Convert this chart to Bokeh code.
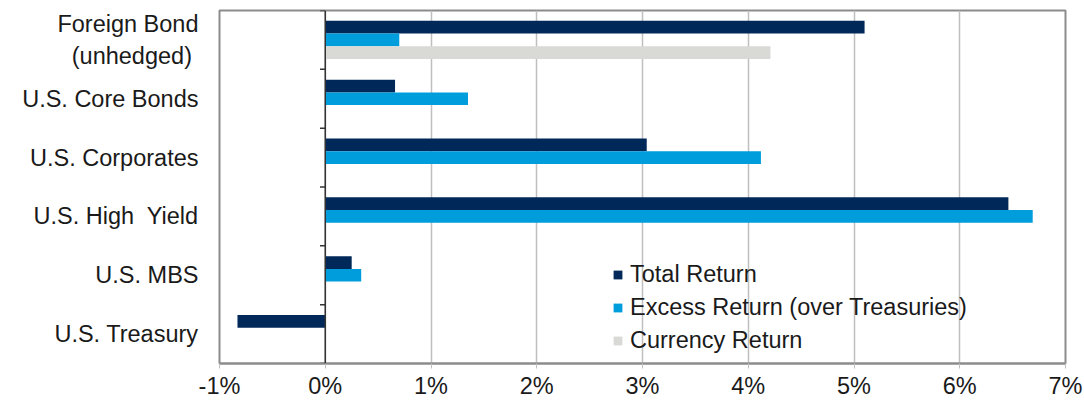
from bokeh.plotting import figure
from bokeh.models import ColumnDataSource, Range1d, FactorRange, FixedTicker, Span, Legend, LegendItem
from bokeh.transform import dodge
from bokeh.embed import file_html
from bokeh.resources import INLINE

# ---- data ----
categories = ["Foreign Bond\n(unhedged)\u00a0", "U.S. Core Bonds", "U.S. Corporates",
              "U.S. High\u00a0 Yield", "U.S. MBS", "U.S. Treasury"]
total_return = [5.10, 0.66, 3.04, 6.46, 0.25, -0.83]
excess_return = [0.70, 1.35, 4.12, 6.69, 0.34, 0.0]
currency_return = [4.21, 0.0, 0.0, 0.0, 0.0, 0.0]
series_names = ["Total Return", "Excess Return (over Treasuries)", "Currency Return"]
x_ticks = [-1, 0, 1, 2, 3, 4, 5, 6, 7]
x_tick_labels = ["-1%", "0%", "1%", "2%", "3%", "4%", "5%", "6%", "7%"]

colors = ["#00295a", "#009ddc", "#d9d9d6"]
FONT = "Liberation Sans"
FS = "23.5px"

src = ColumnDataSource(dict(cat=categories, total=total_return,
                            excess=excess_return, currency=currency_return))

p = figure(width=1084, height=403, output_backend="svg", toolbar_location=None,
           x_range=Range1d(-1, 7), y_range=FactorRange(factors=categories[::-1]),
           min_border_left=219, min_border_right=19, min_border_top=10, min_border_bottom=40)

bw = 0.216
r1 = p.hbar(y=dodge("cat", bw, range=p.y_range), right="total", left=0, height=bw,
            source=src, fill_color=colors[0], line_color=None)
r2 = p.hbar(y=dodge("cat", 0, range=p.y_range), right="excess", left=0, height=bw,
            source=src, fill_color=colors[1], line_color=None)
r3 = p.hbar(y=dodge("cat", -bw, range=p.y_range), right="currency", left=0, height=bw,
            source=src, fill_color=colors[2], line_color=None)

# zero line and its category-boundary ticks
p.add_layout(Span(location=0, dimension="height", line_color="#333333", line_width=1.5))
bounds = list(range(len(categories) + 1))
p.segment(x0=[-0.05] * len(bounds), x1=[0] * len(bounds), y0=bounds, y1=bounds,
          line_color="#333333", line_width=1.5)

# frame / grid
p.outline_line_color = "#8c8c8c"
p.outline_line_width = 2
p.background_fill_color = "white"
p.border_fill_color = "white"
p.xgrid.ticker = FixedTicker(ticks=x_ticks)
p.xgrid.grid_line_color = "#bfbfbf"
p.xgrid.grid_line_width = 1.5
p.ygrid.grid_line_color = None

# x axis
p.xaxis.ticker = FixedTicker(ticks=x_ticks)
p.xaxis.major_label_overrides = {t: l for t, l in zip(x_ticks, x_tick_labels)}
p.xaxis.axis_line_color = "#8c8c8c"
p.xaxis.axis_line_width = 2
p.xaxis.major_tick_line_color = "#bfbfbf"
p.xaxis.major_tick_in = 0
p.xaxis.major_tick_out = 5
p.xaxis.minor_tick_line_color = None
p.xaxis.major_label_text_font = FONT
p.xaxis.major_label_text_font_size = FS
p.xaxis.major_label_text_color = "#1a1a1a"
p.xaxis.major_label_standoff = 4

# y axis
p.yaxis.axis_line_color = None
p.yaxis.major_tick_line_color = None
p.yaxis.major_tick_out = 0
p.yaxis.major_tick_in = 0
p.yaxis.major_label_text_font = FONT
p.yaxis.major_label_text_font_size = FS
p.yaxis.major_label_text_color = "#1a1a1a"
p.yaxis.major_label_standoff = 21

legend = Legend(items=[LegendItem(label=series_names[0], renderers=[r1]),
                       LegendItem(label=series_names[1], renderers=[r2]),
                       LegendItem(label=series_names[2], renderers=[r3])],
                location=(393, 9))
legend.background_fill_alpha = 0
legend.border_line_color = None
legend.padding = 0
legend.margin = 0
legend.spacing = 6
legend.glyph_width = 11
legend.glyph_height = 11
legend.label_text_font = FONT
legend.label_text_font_size = FS
legend.label_text_color = "#1a1a1a"
legend.label_standoff = 7
p.add_layout(legend, "center")

open("out.html", "w").write(file_html(p, INLINE))
